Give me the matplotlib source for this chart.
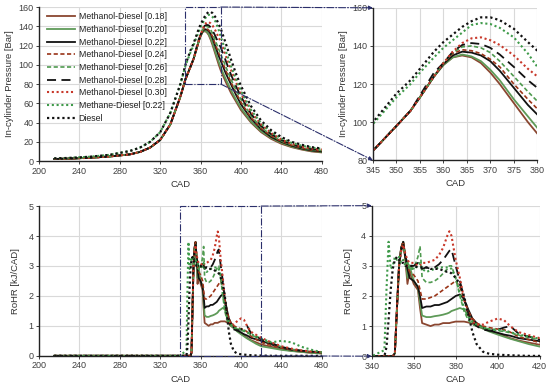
import matplotlib
matplotlib.use("Agg")
import matplotlib.pyplot as plt
from matplotlib.patches import ConnectionPatch, Rectangle

plt.rcParams['font.family'] = ['Liberation Sans', 'DejaVu Sans']

# ---------------- data ----------------
labels = ["Methanol-Diesel [0.18]", "Methanol-Diesel [0.20]", "Methanol-Diesel [0.22]",
          "Methanol-Diesel [0.24]", "Methanol-Diesel [0.26]", "Methanol-Diesel [0.28]",
          "Methanol-Diesel [0.30]", "Methane-Diesel [0.22]", "Diesel"]

# In-cylinder pressure [Bar]
p_cad = [215, 230, 250, 270, 290, 300, 310, 320, 330, 340, 345, 350, 353, 355, 358, 360,
         362, 364, 366, 368, 370, 372, 375, 378, 380, 385, 390, 395, 400, 410, 420, 430,
         440, 450, 460, 470, 480]
p_018 = [2.2, 2.6, 3.4, 4.8, 7.0, 9.5, 14, 22, 38, 67, 85, 98, 106, 113, 124, 130,
         134, 135, 134, 131, 126, 120, 110, 100, 94, 82, 71, 62, 53, 40, 30, 23,
         18, 14.5, 12, 10, 9]
p_020 = [2.2, 2.6, 3.4, 4.8, 7.0, 9.5, 14, 22, 38, 67, 85, 98, 106, 113, 124, 130,
         134, 135.5, 134.5, 132, 127.5, 122, 112, 103, 97, 85, 74, 64, 55, 41, 31, 24,
         19, 15, 12.5, 10.5, 9.5]
p_022 = [2.2, 2.6, 3.4, 4.8, 7.0, 9.5, 14, 22, 38, 67, 85, 98, 106, 113, 124, 130.5,
         135, 137, 136.5, 135, 132, 127, 118, 109, 104, 91, 80, 69, 59, 44, 33, 25,
         20, 16, 13, 11, 10]
p_024 = [2.2, 2.6, 3.4, 4.8, 7.0, 9.5, 14, 22, 38, 67, 85, 98, 106, 113, 124, 131,
         136, 138, 137.5, 136, 133, 129, 120, 112, 107, 94, 82, 71, 61, 45, 34, 26,
         20.5, 16.5, 13.5, 11.5, 10.5]
p_026 = [2.2, 2.6, 3.4, 4.8, 7.0, 9.5, 14, 22, 38, 67, 85, 98, 106, 113, 124, 131,
         136.5, 139.5, 140, 139, 136.5, 132, 124, 116, 111, 98, 85, 74, 64, 47, 35, 27,
         21, 17, 14, 12, 11]
p_028 = [2.2, 2.6, 3.4, 4.8, 7.0, 9.5, 14, 22, 38, 67, 85, 98, 106, 114, 126, 131,
         137, 140.5, 141.5, 141, 139, 135.5, 129, 122, 118, 104, 90, 78, 67, 49, 36.5, 28,
         22, 17.5, 14.5, 12.5, 11.5]
p_030 = [2.2, 2.6, 3.4, 4.8, 7.0, 9.5, 14, 22, 38, 67, 85, 98, 106, 113, 124, 131,
         137, 141.5, 144, 144.5, 143, 140.5, 135, 128, 124, 109, 95, 82, 70, 51, 38, 29,
         22.5, 18, 15, 13, 12]
p_ch4 = [2.8, 3.3, 4.5, 6.5, 10.5, 14, 20, 30, 50, 80, 99, 113, 120, 126, 134, 139,
         143, 147, 151, 152, 151.5, 149.5, 144.5, 136, 129, 114, 99, 85, 73, 53, 39, 30,
         23.5, 19, 16, 14, 12.5]
p_dsl = [2.8, 3.3, 4.5, 6.5, 10.5, 14, 20, 30, 50, 80, 100, 115, 122, 128, 137, 142,
         146, 150, 153, 155, 155, 153.5, 149, 142, 137.5, 122, 106, 91, 78, 57, 42, 32,
         25, 20, 17, 14.5, 13]

# Rate of heat release [kJ/CAD]
r_cad = [215, 340, 346, 347, 348, 349, 350, 351, 352, 353, 354, 355, 356, 357, 358, 360,
         362, 363, 364, 366, 368, 370, 372, 374, 376, 377, 378, 380, 382, 384, 386, 388,
         390, 393, 396, 400, 403, 406, 410, 415, 420, 430, 440, 450, 460, 470, 480]
r_018 = [0, 0, 0, 0, 0, 0, 0, 0.1, 1.6, 3.0, 3.6, 3.8, 3.2, 2.4, 2.8, 2.4,
         2.2, 1.6, 1.1, 1.05, 1.0, 1.05, 1.05, 1.1, 1.1, 1.1, 1.12, 1.15, 1.15, 1.15, 1.12, 1.08,
         1.0, 0.92, 0.85, 0.75, 0.68, 0.6, 0.52, 0.45, 0.38, 0.3, 0.22, 0.17, 0.13, 0.1, 0.08]
r_020 = [0, 0, 0, 0, 0, 0, 0, 0.1, 1.6, 3.0, 3.6, 3.8, 3.3, 2.6, 3.0, 2.5,
         2.3, 1.8, 1.35, 1.3, 1.3, 1.33, 1.35, 1.38, 1.42, 1.45, 1.5, 1.55, 1.6, 1.55, 1.35, 1.2,
         1.05, 0.92, 0.82, 0.72, 0.65, 0.58, 0.5, 0.4, 0.32, 0.26, 0.2, 0.16, 0.13, 0.1, 0.08]
r_022 = [0, 0, 0, 0, 0, 0, 0, 0.1, 1.6, 3.0, 3.6, 3.8, 3.3, 2.9, 2.6, 2.5,
         2.3, 2.0, 1.6, 1.65, 1.65, 1.7, 1.7, 1.75, 1.8, 1.85, 1.9, 2.0, 2.05, 1.9, 1.55, 1.25,
         1.1, 0.95, 0.85, 0.78, 0.72, 0.68, 0.6, 0.55, 0.5, 0.38, 0.27, 0.2, 0.16, 0.13, 0.11]
r_024 = [0, 0, 0, 0, 0, 0, 0, 0.1, 1.6, 3.0, 3.6, 3.8, 3.3, 3.0, 2.8, 2.7,
         2.5, 2.2, 1.9, 1.9, 1.95, 2.0, 2.1, 2.2, 2.3, 2.35, 2.4, 2.5, 2.3, 1.9, 1.5, 1.25,
         1.1, 1.0, 0.95, 0.9, 0.88, 0.8, 0.65, 0.55, 0.45, 0.35, 0.26, 0.2, 0.16, 0.13, 0.11]
r_026 = [0, 0, 0, 0, 0, 0, 0, 0.1, 1.6, 3.0, 3.5, 3.7, 3.3, 3.1, 3.0, 2.9,
         3.3, 3.65, 2.6, 2.45, 2.45, 2.5, 2.6, 2.75, 2.9, 3.0, 3.0, 2.6, 2.0, 1.5, 1.2, 1.05,
         1.0, 0.95, 0.9, 0.85, 0.82, 0.78, 0.7, 0.62, 0.55, 0.42, 0.3, 0.22, 0.17, 0.14, 0.12]
r_028 = [0, 0, 0, 0, 0, 0, 0, 0.1, 1.6, 3.0, 3.5, 3.7, 3.3, 3.1, 3.0, 3.0,
         3.1, 3.0, 2.9, 2.95, 2.9, 2.95, 3.05, 3.2, 3.4, 3.5, 3.55, 3.0, 2.5, 1.9, 1.4, 1.15,
         1.0, 0.88, 0.85, 0.88, 0.95, 1.0, 0.75, 0.65, 0.55, 0.42, 0.3, 0.22, 0.17, 0.14, 0.12]
r_030 = [0, 0, 0, 0, 0, 0, 0, 0.1, 1.6, 3.0, 3.5, 3.7, 3.4, 3.2, 3.1, 3.1,
         3.0, 3.0, 3.1, 3.1, 3.15, 3.2, 3.35, 3.6, 4.0, 4.15, 4.0, 3.2, 2.6, 1.9, 1.4, 1.15,
         1.05, 1.05, 1.15, 1.25, 1.2, 1.0, 0.8, 0.7, 0.6, 0.45, 0.32, 0.24, 0.18, 0.14, 0.12]
r_ch4 = [0, 0, 0.2, 2.2, 3.8, 2.9, 3.0, 3.3, 3.2, 3.3, 3.1, 3.2, 3.0, 3.1, 2.9, 2.9,
         3.0, 3.1, 2.9, 2.8, 2.85, 2.9, 2.95, 2.95, 2.95, 2.95, 2.9, 2.6, 2.1, 1.6, 1.3, 1.15,
         1.05, 0.95, 0.9, 0.88, 0.85, 0.8, 0.72, 0.65, 0.58, 0.45, 0.5, 0.45, 0.3, 0.2, 0.12]
r_dsl = [0, 0, 0, 0.3, 1.2, 2.2, 2.9, 3.2, 3.3, 3.2, 3.1, 3.1, 3.0, 3.0, 3.0, 3.0,
         2.95, 2.95, 2.95, 2.95, 2.9, 2.9, 2.9, 2.85, 2.8, 2.8, 2.75, 2.6, 2.4, 2.0, 1.4, 0.8,
         0.4, 0.15, 0.08, 0.05, 0.04, 0.03, 0.02, 0.01, 0.01, 0, 0, 0, 0, 0, 0]

pressure = [p_018, p_020, p_022, p_024, p_026, p_028, p_030, p_ch4, p_dsl]
rohr = [r_018, r_020, r_022, r_024, r_026, r_028, r_030, r_ch4, r_dsl]

colors = ["#8a4630", "#5e9a58", "#111111", "#9a3418", "#4f9a4f", "#111111",
          "#c8382a", "#3f9a4a", "#111111"]
dot = (0, (1, 1.3))
styles = ["-", "-", "-", (0, (2.5, 1.5)), (0, (2.5, 1.5)), (0, (5, 3)), dot, dot, dot]
widths = [1.3, 1.3, 1.3, 1.2, 1.2, 1.3, 1.5, 1.5, 1.6]

# ---------------- figure ----------------
fig = plt.figure(figsize=(5.5, 3.91), dpi=100)
ax1 = fig.add_axes([0.071, 0.588, 0.514, 0.394])
ax2 = fig.add_axes([0.678, 0.590, 0.299, 0.390])
ax3 = fig.add_axes([0.071, 0.090, 0.514, 0.383])
ax4 = fig.add_axes([0.676, 0.089, 0.305, 0.385])

tick_col = "#404040"
for ax in (ax1, ax2, ax3, ax4):
    for s in ("top", "right"):
        ax.spines[s].set_visible(False)
    for s in ("left", "bottom"):
        ax.spines[s].set_color("#222222")
        ax.spines[s].set_linewidth(1.0)
    ax.grid(True, color="#d9d9d9", linewidth=0.8)
    ax.set_axisbelow(True)
    ax.tick_params(labelsize=6.5, colors="#222222", labelcolor=tick_col,
                   length=2, width=0.6, pad=2)

for ax in (ax1, ax2):
    for y, c, ls, lw in zip(pressure, colors, styles, widths):
        ax.plot(p_cad, y, color=c, linestyle=ls, linewidth=lw)
for ax in (ax3, ax4):
    for y, c, ls, lw in zip(rohr, colors, styles, widths):
        ax.plot(r_cad, y, color=c, linestyle=ls, linewidth=lw)

ax1.set_xlim(200, 480); ax1.set_ylim(0, 160)
ax1.set_xticks(range(200, 481, 40)); ax1.set_yticks(range(0, 161, 20))
ax2.set_xlim(345, 380); ax2.set_ylim(80, 160)
ax2.set_xticks(range(345, 381, 5)); ax2.set_yticks(range(80, 161, 20))
ax3.set_xlim(200, 480); ax3.set_ylim(0, 5)
ax3.set_xticks(range(200, 481, 40)); ax3.set_yticks(range(0, 6))
ax4.set_xlim(340, 420); ax4.set_ylim(0, 5)
ax4.set_xticks(range(340, 421, 20)); ax4.set_yticks(range(0, 6))

lab_kw = dict(fontsize=6.8, color="#333333")
for ax in (ax1, ax2, ax3, ax4):
    ax.set_xlabel("CAD", labelpad=3, **lab_kw)
ax1.set_ylabel("In-cylinder Pressure [Bar]", labelpad=3, **lab_kw)
ax2.set_ylabel("In-cylinder Pressure [Bar]", labelpad=3, **lab_kw)
ax3.set_ylabel("RoHR [kJ/CAD]", labelpad=6, **lab_kw)
ax4.set_ylabel("RoHR [kJ/CAD]", labelpad=6, **lab_kw)

handles = ax1.get_lines()
leg = ax1.legend(handles, labels, loc="upper left", bbox_to_anchor=(0.01, 1.0),
                 frameon=False, fontsize=6.3, handlelength=3.2, handletextpad=0.4,
                 labelspacing=0.42, borderaxespad=0.2)
for t in leg.get_texts():
    t.set_color("#222222")

# ---------------- zoom indicators ----------------
zc = "#2b2f6b"
ax1.add_patch(Rectangle((345, 80), 35, 80, fill=False, edgecolor=zc, linestyle="-.",
                        linewidth=0.8, clip_on=False, zorder=5))
ax3.add_patch(Rectangle((340, 0), 80, 5, fill=False, edgecolor=zc, linestyle="-.",
                        linewidth=0.8, clip_on=False, zorder=5))

def connect(xa, ya, axa, xb, yb, axb):
    cp = ConnectionPatch(xyA=(xa, ya), coordsA=axa.transData,
                         xyB=(xb, yb), coordsB=axb.transData,
                         arrowstyle="-|>", mutation_scale=6, linestyle="-.",
                         color=zc, linewidth=0.8, zorder=6)
    fig.add_artist(cp)

connect(380, 160, ax1, 345, 160, ax2)
connect(380, 80, ax1, 345, 80, ax2)
connect(420, 5, ax3, 340, 5, ax4)
connect(420, 0, ax3, 340, 0, ax4)

fig.savefig("out.png", dpi=100)
